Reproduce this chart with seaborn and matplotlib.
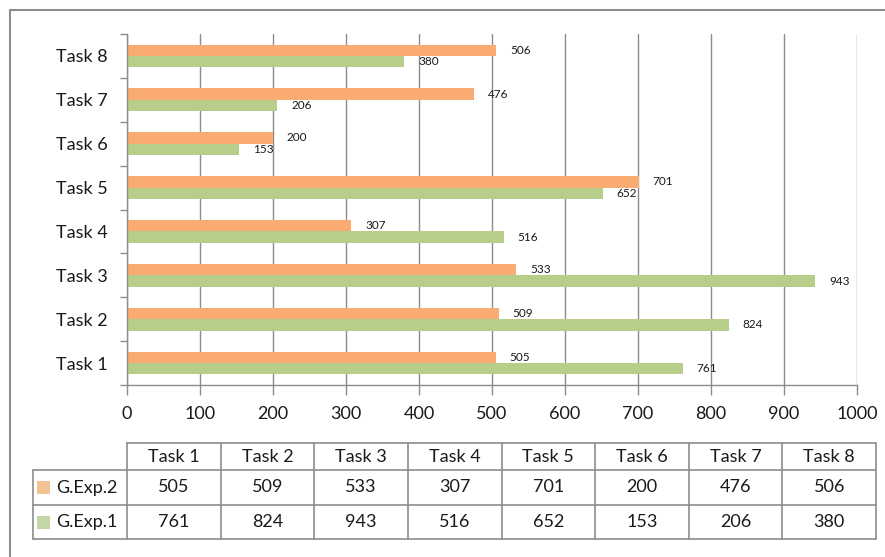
import matplotlib
matplotlib.use("Agg")
import matplotlib.pyplot as plt
from matplotlib.patches import Rectangle
import numpy as np
import pandas as pd
import seaborn as sns

# ---- data ----
tasks = ["Task 1", "Task 2", "Task 3", "Task 4", "Task 5", "Task 6", "Task 7", "Task 8"]
series_names = ["G.Exp.2", "G.Exp.1"]
exp2_values = [505, 509, 533, 307, 701, 200, 476, 506]
exp1_values = [761, 824, 943, 516, 652, 153, 206, 380]
x_ticks = [0, 100, 200, 300, 400, 500, 600, 700, 800, 900, 1000]

bar_colors = {"G.Exp.2": "#F9AB72", "G.Exp.1": "#B6CE89"}
key_colors = {"G.Exp.2": "#F1C293", "G.Exp.1": "#C5D6A6"}
line_gray = "#8c8c8c"
text_color = "#1a1a1a"

sns.set_theme(style="white")
plt.rcParams["font.family"] = ["Lato", "DejaVu Sans"]

W, H = 885, 557
fig = plt.figure(figsize=(W / 100, H / 100), dpi=100)
fig.patch.set_facecolor("white")


def px_rect(left, top, right, bottom):
    return [left / W, 1 - bottom / H, (right - left) / W, (bottom - top) / H]


# ---- bar chart ----
ax = fig.add_axes(px_rect(127, 34, 857, 385))
df = pd.DataFrame({
    "task": tasks * 2,
    "series": [series_names[0]] * len(tasks) + [series_names[1]] * len(tasks),
    "value": exp2_values + exp1_values,
})
sns.barplot(data=df, y="task", x="value", hue="series",
            order=tasks[::-1], hue_order=series_names, palette=bar_colors,
            width=0.52, gap=0, orient="h", saturation=1, linewidth=0,
            errorbar=None, legend=False, ax=ax)

ax.set_xlim(0, 1000)
ax.set_ylim(7.5, -0.5)
ax.set_xlabel("")
ax.set_ylabel("")
ax.set_axisbelow(True)
ax.xaxis.grid(True, color=line_gray, lw=1)
ax.yaxis.grid(False)
for side in ("top", "right"):
    ax.spines[side].set_visible(False)
for side in ("left", "bottom"):
    ax.spines[side].set_visible(True)
    ax.spines[side].set_color(line_gray)
    ax.spines[side].set_linewidth(1)

ax.set_xticks(x_ticks)
ax.set_xticklabels([str(t) for t in x_ticks])
ax.tick_params(axis="x", which="major", bottom=True, direction="out", length=7,
               width=1, color=line_gray, pad=8, labelsize=13, labelcolor=text_color)

ax.set_yticks(range(len(tasks)))
ax.set_yticklabels(tasks[::-1])
ax.set_yticks(np.arange(-0.5, len(tasks), 1), minor=True)
ax.tick_params(axis="y", which="major", left=True, length=0, pad=14,
               labelsize=13, labelcolor=text_color)
ax.tick_params(axis="y", which="minor", left=True, direction="out", length=5,
               width=1, color=line_gray)

for container in ax.containers:
    ax.bar_label(container, fmt="%d", padding=10, fontsize=8.5, color=text_color)

# ---- data table under the chart ----
tab = fig.add_axes([0, 0, 1, 1])
tab.set_xlim(0, W)
tab.set_ylim(H, 0)
tab.axis("off")
tab.patch.set_alpha(0)

col_edges = np.linspace(127, 876, len(tasks) + 1)
key_left = 33
row_lines = [443, 470, 505, 539]

tab.plot([col_edges[0], col_edges[-1]], [row_lines[0]] * 2, color=line_gray, lw=1.2)
for y in row_lines[1:]:
    tab.plot([key_left, col_edges[-1]], [y, y], color=line_gray, lw=1.2)
tab.plot([key_left, key_left], [row_lines[1], row_lines[-1]], color=line_gray, lw=1.2)
for x in col_edges:
    tab.plot([x, x], [row_lines[0], row_lines[-1]], color=line_gray, lw=1.2)

centers = (col_edges[:-1] + col_edges[1:]) / 2
header_y = (row_lines[0] + row_lines[1]) / 2
for cx, name in zip(centers, tasks):
    tab.text(cx, header_y, name, ha="center", va="center", fontsize=13, color=text_color)

for r, (name, vals) in enumerate(zip(series_names, [exp2_values, exp1_values])):
    cy = (row_lines[r + 1] + row_lines[r + 2]) / 2
    tab.add_patch(Rectangle((37, cy - 6.5), 13, 13, facecolor=key_colors[name], edgecolor="none"))
    tab.text(56, cy, name, ha="left", va="center", fontsize=13, color=text_color)
    for cx, v in zip(centers, vals):
        tab.text(cx, cy, str(v), ha="center", va="center", fontsize=13, color=text_color)

# outer frame
tab.plot([10, 10], [10, H], color=line_gray, lw=1.5)
tab.plot([10, W], [10, 10], color=line_gray, lw=1.5)

fig.savefig("out.png", dpi=100)
